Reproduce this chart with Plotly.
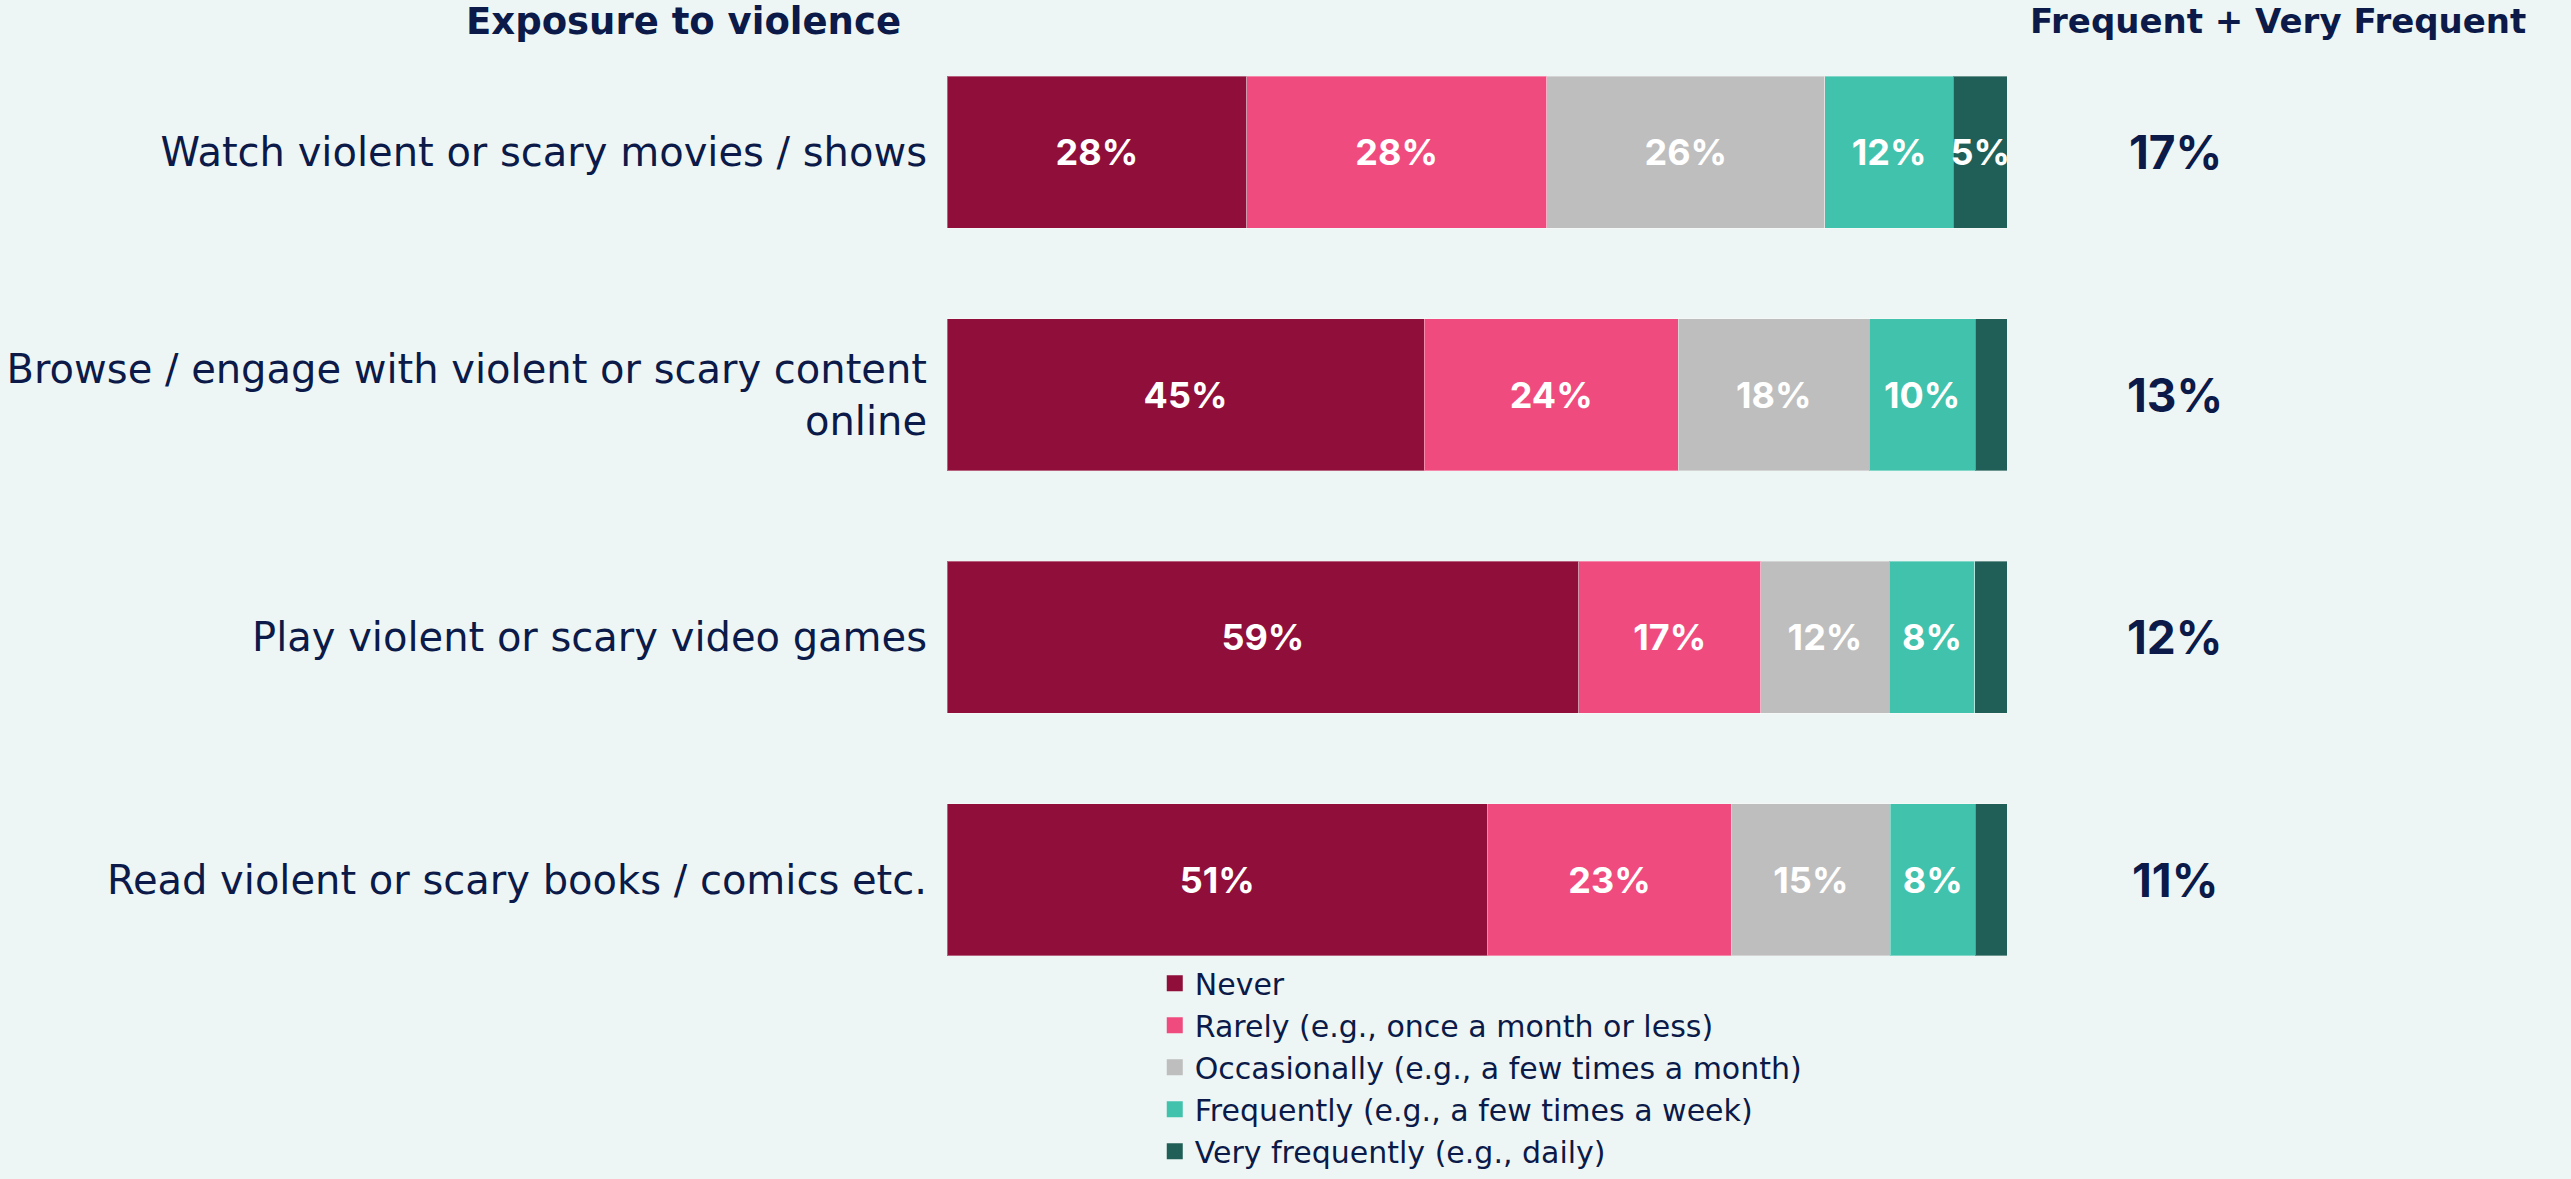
import plotly.graph_objects as go

categories = [
    "Watch violent or scary movies / shows",
    "Browse / engage with violent or scary content<br>online",
    "Play violent or scary video games",
    "Read violent or scary books / comics etc.",
]
series_names = [
    "Never",
    "Rarely (e.g., once a month or less)",
    "Occasionally (e.g., a few times a month)",
    "Frequently (e.g., a few times a week)",
    "Very frequently (e.g., daily)",
]
never = [28, 45, 59, 51]
rarely = [28, 24, 17, 23]
occasionally = [26, 18, 12, 15]
frequently = [12, 10, 8, 8]
very_frequently = [5, 3, 3, 3]
freq_plus_very = [17, 13, 12, 11]

colors = ["#8F0E3A", "#F04B7E", "#BEBEBE", "#41C2AC", "#205F57"]
BG = "#EEF6F5"
NAVY = "#0B1A48"
LABEL_FONT = "DejaVu Sans"
NUM_FONT = "Inter"

series_values = [never, rarely, occasionally, frequently, very_frequently]

fig = go.Figure()
for name, vals, col in zip(series_names, series_values, colors):
    fig.add_trace(go.Bar(
        y=categories, x=vals, orientation="h", name=name,
        marker=dict(color=col, line=dict(color="rgba(255,255,255,0.35)", width=1)),
        text=[f"{v}%" if v >= 5 else "" for v in vals],
        textposition="inside", insidetextanchor="middle", textangle=0,
        constraintext="none",
        textfont=dict(family=NUM_FONT, size=36, color="white", weight="bold"),
        showlegend=False, hoverinfo="skip",
    ))
    # legend swatch
    fig.add_trace(go.Scatter(
        x=[None], y=[None], mode="markers", name=name,
        marker=dict(symbol="square", size=20, color=col),
        showlegend=True,
    ))

for cat, v in zip(categories, freq_plus_very):
    fig.add_annotation(
        x=1.1585, xref="paper", y=cat, yref="y", text=f"<b>{v}%</b>",
        showarrow=False, xanchor="center", yanchor="middle",
        font=dict(family=NUM_FONT, size=46, color=NAVY),
    )

fig.add_annotation(
    x=-0.0415, xref="paper", y=1.010, yref="paper",
    text="<b>Exposure to violence</b>", showarrow=False,
    xanchor="right", yanchor="middle",
    font=dict(family=LABEL_FONT, size=37, color=NAVY),
)
fig.add_annotation(
    x=1.0198, xref="paper", y=1.010, yref="paper",
    text="<b>Frequent + Very Frequent</b>", showarrow=False,
    xanchor="left", yanchor="middle",
    font=dict(family=LABEL_FONT, size=34, color=NAVY),
)

fig.update_layout(
    width=2571, height=1179,
    margin=dict(l=947, r=564, t=31, b=178, pad=0, autoexpand=False),
    paper_bgcolor=BG, plot_bgcolor=BG,
    barmode="stack", barnorm="percent", bargap=0.373,
    font=dict(family=LABEL_FONT, color=NAVY),
    xaxis=dict(range=[0, 100], visible=False, fixedrange=True),
    yaxis=dict(
        categoryorder="array", categoryarray=categories,
        range=[3.5, -0.5], showgrid=False, zeroline=False, showline=False,
        ticks="", ticklabelstandoff=19,
        tickfont=dict(family=LABEL_FONT, size=40, color=NAVY),
    ),
    legend=dict(
        x=0.196, xanchor="left", y=0.045, yanchor="top",
        bgcolor="rgba(0,0,0,0)", borderwidth=0,
        font=dict(family=LABEL_FONT, size=30, color=NAVY),
        tracegroupgap=0, itemwidth=30, traceorder="normal",
    ),
    showlegend=True,
)

fig.write_html("out.html")
